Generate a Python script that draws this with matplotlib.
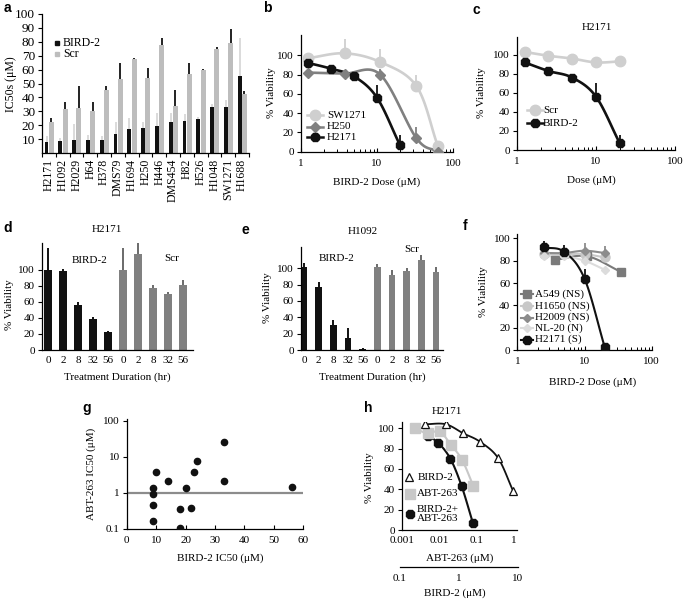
import numpy as np
import matplotlib
matplotlib.use('Agg')
import matplotlib.pyplot as plt
from matplotlib.lines import Line2D
from matplotlib.ticker import NullFormatter, LogLocator, FixedLocator

plt.rcParams['font.family'] = ['Liberation Serif', 'DejaVu Serif']
plt.rcParams['font.size'] = 8
plt.rcParams['axes.linewidth'] = 0.9

# ---------------- data ----------------
# panel a
a_lines = ['H2171', 'H1092', 'H2029', 'H64', 'H378', 'DMS79', 'H1694', 'H250', 'H446',
           'DMS454', 'H82', 'H526', 'H1048', 'SW1271', 'H1688']
a_bird = [8, 8.5, 9, 9, 9, 13.5, 17.5, 18, 19.5, 22.3, 23, 24.2, 33, 33.3, 55.4]
a_bird_err = [4, 2, 12, 4, 3, 8.5, 7.5, 4.5, 9, 6.7, 4.8, 1.8, 2.5, 4.7, 27]
a_scr = [22, 32, 32.5, 30, 45, 53, 67.5, 54, 77.7, 33.8, 56.8, 59.7, 74.6, 78.9, 42.4]
a_scr_err = [3, 5, 15.5, 7, 3, 11.5, 1, 7, 4.8, 11.5, 8.2, 0.7, 1.9, 10.3, 2.2]

# panel b
b_dose_sw = [1.25, 3.75, 11, 33, 63]
b_sw = [97, 102, 93, 68, 6]
b_sw_err = [5, 15, 14, 12, 0]
b_dose_h250 = [1.25, 3.75, 11, 33, 63]
b_h250 = [82, 81, 80, 14, 0]
b_h250_err = [0, 3, 6, 12, 0]
b_dose_h2171 = [1.25, 2.5, 5, 10, 20]
b_h2171 = [92, 86, 78, 56, 7]
b_h2171_err = [2, 2, 3, 13.5, 10]

# panel c
c_dose = [1.25, 2.5, 5, 10, 20]
c_scr = [103, 99, 96, 92, 93]
c_scr_err = [0, 0, 0, 0, 5]
c_bird = [92, 83, 76, 56, 7]
c_bird_err = [2, 2, 3, 14, 9]

# panel d / e
dur_labels = ['0', '2', '8', '32', '56']
d_bird = [100, 99, 56, 39, 22]
d_bird_err = [28, 2, 4, 2, 2]
d_scr = [100, 120, 77, 70, 81]
d_scr_err = [28, 15, 4, 2, 6]
e_bird = [101, 77, 30, 15, 1.5]
e_bird_err = [5, 6, 7, 12, 0.5]
e_scr = [101, 92, 97, 110, 96]
e_scr_err = [4, 6, 3, 6, 5]

# panel f
f_a549_dose = [3.7, 11, 35]
f_a549 = [81, 84, 70]
f_h1650_dose = [2.5, 5, 10, 20]
f_h1650 = [86, 86, 86, 83]
f_h2009_dose = [2.5, 5, 10, 20]
f_h2009 = [87, 87, 89, 87]
f_h2009_err = [0, 2, 7, 6]
f_nl20_dose = [2.5, 5, 10, 20]
f_nl20 = [84, 84, 80, 72]
f_h2171_dose = [2.5, 5, 10, 20]
f_h2171 = [92, 88, 64, 2.5]
f_h2171_err = [6, 6, 9, 0]

# panel g
g_bird_ic50 = [9, 9, 9, 9, 10, 14, 18, 18, 20, 22, 23, 24, 33, 33, 56]
g_abt_ic50 = [1.4, 0.95, 0.47, 0.17, 3.7, 2.2, 0.35, 0.11, 1.4, 0.38, 3.7, 7.5, 25, 2.1, 1.5]

# panel h
h_bird_x = [0.0042, 0.0148, 0.044, 0.12, 0.37, 0.94]
h_bird = [104, 104, 95, 87, 71, 38.6]
h_abt_x = [0.0022, 0.0049, 0.0101, 0.0202, 0.041, 0.082]
h_abt = [100, 95, 97, 84, 68.6, 43]
h_combo_x = [0.0049, 0.0092, 0.0198, 0.0396, 0.079]
h_combo = [92, 86, 70, 43, 7]

# ---------------- helpers ----------------
W, H = 685, 601
fig = plt.figure(figsize=(W / 100, H / 100), dpi=100)

BLACK = '#111111'
LGRAY = '#c8c8c8'
MGRAY = '#808080'


def axpx(l, t, r, b):
    ax = fig.add_axes([l / W, 1 - b / H, (r - l) / W, (b - t) / H])
    ax.spines['top'].set_visible(False)
    ax.spines['right'].set_visible(False)
    ax.patch.set_alpha(0)
    ax.tick_params(axis='both', length=3, width=0.8, labelsize=8, pad=2)
    return ax


def ftext(x, y, s, **kw):
    kw.setdefault('va', 'center')
    kw.setdefault('ha', 'left')
    kw.setdefault('fontsize', 8)
    return fig.text(x / W, 1 - y / H, s, **kw)


def panel_label(x, y, s):
    fig.text(x / W, 1 - y / H, s, fontsize=10, fontweight='bold',
             family='Liberation Sans', ha='left', va='center')


def legend_entry(xm, y, xt, label, line=True, half=8, lw=1.8, color=BLACK, fs=8, **mk):
    if line:
        fig.add_artist(Line2D([(xm - half) / W, (xm + half) / W], [1 - y / H, 1 - y / H],
                              transform=fig.transFigure, color=color, lw=lw))
    fig.add_artist(Line2D([xm / W], [1 - y / H], transform=fig.transFigure, ls='none', **mk))
    return ftext(xt, y, label, fontsize=fs)


def smooth(x, y, logx=True, n=24):
    X = np.log10(np.asarray(x, float)) if logx else np.asarray(x, float)
    Y = np.asarray(y, float)
    P = np.column_stack([X, Y])
    if len(P) < 3:
        xs, ys = P[:, 0], P[:, 1]
        return (10 ** xs if logx else xs), ys
    Pp = np.vstack([2 * P[0] - P[1], P, 2 * P[-1] - P[-2]])
    out = []
    t = np.linspace(0, 1, n)[:, None]
    for i in range(1, len(Pp) - 2):
        p0, p1, p2, p3 = Pp[i - 1], Pp[i], Pp[i + 1], Pp[i + 2]
        seg = 0.5 * (2 * p1 + (-p0 + p2) * t + (2 * p0 - 5 * p1 + 4 * p2 - p3) * t ** 2
                     + (-p0 + 3 * p1 - 3 * p2 + p3) * t ** 3)
        out.append(seg if i == 1 else seg[1:])
    out = np.vstack(out)
    xs = 10 ** out[:, 0] if logx else out[:, 0]
    return xs, out[:, 1]


def up_err(ax, x, y, e, color, lw=1.3, z=2):
    y = np.asarray(y, float)
    e = np.asarray(e, float)
    m = e > 0
    ax.vlines(np.asarray(x, float)[m], y[m], (y + e)[m], color=color, lw=lw, zorder=z)


def log_dose_axis(ax, ymax):
    ax.set_xscale('log')
    ax.set_xlim(1, 100)
    ax.set_ylim(0, ymax)
    ax.set_xticks([1, 10, 100])
    ax.set_xticklabels(['1', '10', '100'])
    ax.xaxis.set_minor_locator(LogLocator(base=10, subs=np.arange(2, 10)))
    ax.xaxis.set_minor_formatter(NullFormatter())
    ax.tick_params(axis='x', which='major', direction='in', length=3, pad=5)
    ax.tick_params(axis='x', which='minor', direction='in', length=2, width=0.7)
    ax.set_yticks(range(0, 101, 20))


# ---------------- panel a ----------------
ax = axpx(42, 14, 249, 153)
xa = np.arange(len(a_lines))
ax.bar(xa - 0.17, a_bird, 0.28, color=BLACK, zorder=2)
ax.bar(xa + 0.17, a_scr, 0.36, color='#bdbdbd', zorder=2)
up_err(ax, xa - 0.17, a_bird, a_bird_err, '#d8d8d8', lw=1.3)
up_err(ax, xa + 0.17, a_scr, a_scr_err, BLACK, lw=1.3)
ax.set_xlim(-0.5, 14.5)
ax.set_ylim(0, 100)
ax.set_yticks(range(10, 101, 10))
ax.tick_params(axis='y', labelsize=9.5)
ax.set_xticks(xa)
ax.set_xticklabels(a_lines, rotation=90)
ax.tick_params(axis='x', which='major', length=0, pad=4, labelsize=8.5)
ax.xaxis.set_minor_locator(FixedLocator(np.arange(-0.5, 15, 1)))
ax.tick_params(axis='x', which='minor', length=3, width=0.8)
ftext(11, 84, 'IC50s (μM)', rotation=90, ha='center', fontsize=8.5)
legend_entry(57, 43, 63, 'BIRD-2', line=False, fs=8.5, marker='s', ms=3, mfc=BLACK, mec=BLACK)
legend_entry(57, 54, 63, 'Scr', line=False, fs=8.5, marker='s', ms=3, mfc='#bdbdbd', mec='#bdbdbd')
panel_label(4, 8, 'a')

# ---------------- panel b ----------------
ax = axpx(301, 35, 453, 151.7)
log_dose_axis(ax, 121)
for d, v, e, col, mk, ms in [(b_dose_sw, b_sw, b_sw_err, '#cfcfcf', 'o', 7.5),
                             (b_dose_h250, b_h250, b_h250_err, MGRAY, 'D', 5),
                             (b_dose_h2171, b_h2171, b_h2171_err, BLACK, '8', 6.5)]:
    sx, sy = smooth(d, v)
    ax.plot(sx, sy, color=col, lw=1.9, zorder=3)
    up_err(ax, d, v, e, col, z=3)
    ax.plot(d, v, ls='none', marker=mk, ms=ms, color=col, zorder=4)
ftext(377, 182, 'BIRD-2 Dose (μM)', ha='center')
ftext(272, 93, '% Viability', rotation=90, ha='center')
legend_entry(315, 115, 327, 'SW1271', color='#cfcfcf', marker='o', ms=7.5, mfc='#cfcfcf', mec='#cfcfcf')
legend_entry(315, 126.5, 327, 'H250', color=MGRAY, marker='D', ms=5, mfc=MGRAY, mec=MGRAY)
legend_entry(315, 137, 327, 'H2171', color=BLACK, marker='8', ms=6.5, mfc=BLACK, mec=BLACK)
panel_label(263, 8, 'b')

# ---------------- panel c ----------------
ax = axpx(517, 36.7, 675, 150)
log_dose_axis(ax, 119)
for v, e, col, ms in [(c_scr, c_scr_err, '#cfcfcf', 7.5), (c_bird, c_bird_err, BLACK, 6.5)]:
    sx, sy = smooth(c_dose, v)
    ax.plot(sx, sy, color=col, lw=1.9, zorder=3)
    up_err(ax, c_dose, v, e, col, z=3)
    ax.plot(c_dose, v, ls='none', marker='o' if col != BLACK else '8', ms=ms, color=col, zorder=4)
ftext(597, 28, 'H2171', ha='center')
ftext(591, 180, 'Dose (μM)', ha='center')
ftext(482, 93, '% Viability', rotation=90, ha='center')
legend_entry(535, 110, 543, 'Scr', color='#cfcfcf', marker='o', ms=7.5, mfc='#cfcfcf', mec='#cfcfcf')
legend_entry(535, 123, 543, 'BIRD-2', color=BLACK, marker='8', ms=6.5, mfc=BLACK, mec=BLACK)
panel_label(473, 10, 'c')


# ---------------- panels d, e ----------------
def duration_panel(l, t, r, b, ymax, x0, x1, bw, bird, bird_err, scr, scr_err):
    ax = axpx(l, t, r, b)
    xb = np.arange(5)
    xs = np.arange(5, 10)
    ax.bar(xb, bird, bw, color=BLACK, zorder=2)
    ax.bar(xs, scr, bw, color=MGRAY, zorder=2)
    up_err(ax, xb, bird, bird_err, BLACK, lw=1.4)
    up_err(ax, xs, scr, scr_err, '#6a6a6a', lw=1.4)
    ax.set_xlim(x0, x1)
    ax.set_ylim(0, ymax)
    ax.set_yticks(range(0, 101, 20))
    ax.set_xticks(np.arange(10))
    ax.set_xticklabels(dur_labels * 2)
    ax.tick_params(axis='x', length=0, pad=4)
    return ax


duration_panel(42, 242.7, 193, 350, 134, -0.4, 9.67, 0.5, d_bird, d_bird_err, d_scr, d_scr_err)
ftext(107, 230, 'H2171', ha='center')
ftext(90, 260, 'BIRD-2', ha='center')
ftext(172, 258, 'Scr', ha='center')
ftext(117, 377, 'Treatment Duration (hr)', ha='center')
ftext(10, 305, '% Viability', rotation=90, ha='center')
panel_label(3, 228, 'd')

duration_panel(300.7, 246.7, 443, 350, 126.4, -0.22, 9.47, 0.46, e_bird, e_bird_err, e_scr, e_scr_err)
ftext(363, 231, 'H1092', ha='center')
ftext(337, 258, 'BIRD-2', ha='center')
ftext(412, 249, 'Scr', ha='center')
ftext(372, 377, 'Treatment Duration (hr)', ha='center')
ftext(267, 298, '% Viability', rotation=90, ha='center')
panel_label(242, 230, 'e')

# ---------------- panel f ----------------
ax = axpx(517.3, 234, 651.7, 350)
log_dose_axis(ax, 104)
f_series = [
    (f_a549_dose, f_a549, None, '#7a7a7a', 's', 5.5, 'A549 (NS)'),
    (f_h1650_dose, f_h1650, None, '#c8c8c8', 'o', 6.5, 'H1650 (NS)'),
    (f_h2009_dose, f_h2009, f_h2009_err, '#8c8c8c', 'D', 4.5, 'H2009 (NS)'),
    (f_nl20_dose, f_nl20, None, '#dcdcdc', 'D', 4, 'NL-20 (N)'),
    (f_h2171_dose, f_h2171, f_h2171_err, BLACK, '8', 6.5, 'H2171 (S)'),
]
for d, v, e, col, mk, ms, lab in f_series:
    sx, sy = smooth(d, v)
    ax.plot(sx, sy, color=col, lw=1.5, zorder=3)
    if e is not None:
        up_err(ax, d, v, e, col, z=3)
    ax.plot(d, v, ls='none', marker=mk, ms=ms, color=col, zorder=4)
for (d, v, e, col, mk, ms, lab), yy in zip(f_series, [294, 306, 317.5, 328, 339.5]):
    legend_entry(526.7, yy, 535, lab, color=col, lw=1.5, half=6, marker=mk, ms=ms, mfc=col, mec=col)
ftext(593, 382, 'BIRD-2 Dose (μM)', ha='center')
ftext(483, 292, '% Viability', rotation=90, ha='center')
panel_label(463, 226, 'f')

# ---------------- panel g ----------------
ax = axpx(126.7, 419, 303.3, 529)
ax.set_yscale('log')
ax.set_ylim(0.1, 112)
ax.set_xlim(0, 60)
ax.axhline(1, color='#8c8c8c', lw=1.6, zorder=2)
ax.plot(g_bird_ic50, g_abt_ic50, ls='none', marker='o', ms=4.5, color=BLACK, zorder=3)
ax.set_yticks([0.1, 1, 10, 100])
ax.set_yticklabels(['0.1', '1', '10', '100'])
ax.yaxis.set_minor_locator(FixedLocator([]))
ax.set_xticks(range(0, 61, 10))
ax.tick_params(axis='x', direction='in', length=3, pad=5)
ftext(220, 558, 'BIRD-2 IC50 (μM)', ha='center')
ftext(91, 474, 'ABT-263 IC50 (μM)', rotation=90, ha='center')
panel_label(82, 408, 'g')

# ---------------- panel h ----------------
ax = axpx(402, 421.7, 517, 530)
ax.set_xscale('log')
ax.set_xlim(0.001, 1.2)
ax.set_ylim(0, 106.5)
ax.set_xticks([0.001, 0.01, 0.1, 1])
ax.set_xticklabels(['0.001', '0.01', '0.1', '1'])
ax.xaxis.set_minor_locator(FixedLocator([]))
ax.tick_params(axis='x', length=0, pad=4)
ax.set_yticks(range(0, 101, 20))
sx, sy = smooth(h_combo_x, h_combo)
ax.plot(sx, sy, color=BLACK, lw=1.5, zorder=3)
ax.plot(h_combo_x, h_combo, ls='none', marker='8', ms=6.5, color=BLACK, zorder=4)
sx, sy = smooth(h_abt_x, h_abt)
ax.plot(sx, sy, color='#c8c8c8', lw=1.5, zorder=5)
ax.plot(h_abt_x, h_abt, ls='none', marker='s', ms=6.5, color='#c8c8c8', zorder=6)
sx, sy = smooth(h_bird_x, h_bird)
ax.plot(sx, sy, color=BLACK, lw=1.3, zorder=7)
ax.plot(h_bird_x, h_bird, ls='none', marker='^', ms=6, mfc='white', mec=BLACK, mew=0.9, zorder=8)
ftext(447, 412, 'H2171', ha='center')
ftext(460, 558, 'ABT-263 (μM)', ha='center')
ftext(370, 478, '% Viability', rotation=90, ha='center')
legend_entry(409, 477, 418, 'BIRD-2', line=False, marker='^', ms=6, mfc='white', mec=BLACK, mew=0.9)
legend_entry(410, 494, 417, 'ABT-263', line=False, marker='s', ms=6.5, mfc='#c8c8c8', mec='#c8c8c8')
t = legend_entry(410, 514, 417, 'BIRD-2+\nABT-263', line=False, marker='8', ms=6.5, mfc=BLACK, mec=BLACK)
t.set_linespacing(0.95)
panel_label(364, 408, 'h')

# secondary BIRD-2 axis under panel h
ax2 = fig.add_axes([400 / W, 1 - 567 / H, 118 / W, 1 / H])
for s in ['top', 'right', 'left']:
    ax2.spines[s].set_visible(False)
ax2.patch.set_alpha(0)
ax2.set_xscale('log')
ax2.set_xlim(0.1, 10)
ax2.set_xticks([0.1, 1, 10])
ax2.set_xticklabels(['0.1', '1', '10'])
ax2.xaxis.set_minor_locator(FixedLocator([]))
ax2.set_yticks([])
ax2.tick_params(axis='x', length=0, pad=5, labelsize=8)
ftext(455, 593, 'BIRD-2 (μM)', ha='center')

fig.savefig('out.png', dpi=100)
